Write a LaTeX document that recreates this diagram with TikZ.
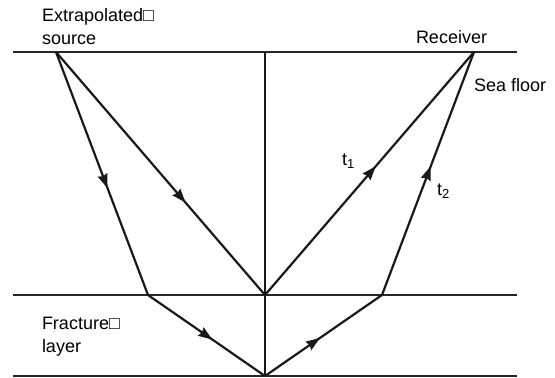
\documentclass[tikz,border=0pt]{standalone}
\usepackage{fontspec}
\setmainfont{Liberation Sans}
\usetikzlibrary{arrows.meta,decorations.markings}
\tikzset{
  lbl/.style={inner sep=0pt, outer sep=0pt, anchor=base west, font=\fontsize{18}{22}\selectfont},
  hline/.style={line width=2.2pt, draw=black!85},
  ray/.style={line width=2.2pt, draw=black!90, postaction={decorate},
    decoration={markings, mark=at position #1 with {\arrow{Stealth[length=14pt,width=10pt,inset=1.5pt]}}}},
  plain/.style={line width=2.2pt, draw=black!90}
}
\newcommand{\subtxt}[1]{{\fontsize{13}{15}\selectfont\raisebox{-3pt}{#1}}}
\begin{document}
\begin{tikzpicture}[x=1pt,y=-1pt]
\useasboundingbox (0,0) rectangle (555,378);
% reference points
\coordinate (TL) at (13,52);  \coordinate (TR) at (517,52);
\coordinate (ML) at (13,295); \coordinate (MR) at (517,295);
\coordinate (BL) at (13,376); \coordinate (BR) at (517,376);
\coordinate (VT) at (265,52); \coordinate (M) at (265,295); \coordinate (B) at (265,376);
\coordinate (S) at (56,52);   \coordinate (R) at (474,52);
\coordinate (A) at (148,295); \coordinate (C) at (382,295);
% interfaces
\draw[hline] (TL) -- (TR);
\draw[hline] (ML) -- (MR);
\draw[hline] (BL) -- (BR);
\draw[plain] (VT) -- (B);
% rays
\draw[ray=0.56] (S) -- (A);
\draw[ray=0.62] (S) -- (M);
\draw[ray=0.53] (M) -- (R);
\draw[ray=0.53] (C) -- (R);
\draw[ray=0.55] (A) -- (B);
\draw[ray=0.47] (B) -- (C);
% labels
\node[lbl] (ext) at (42,21) {Extrapolated□};
\node[lbl] (src) at (42,44) {source};
\node[lbl] (rec) at (416,43) {Receiver};
\node[lbl] (sea) at (474,91) {Sea floor};
\node[lbl] (t1) at (342,165) {t\subtxt{1}};
\node[lbl] (t2) at (437,195) {t\subtxt{2}};
\node[lbl] (fra) at (42,329) {Fracture□};
\node[lbl] (lay) at (42,352) {layer};
\end{tikzpicture}
\end{document}
